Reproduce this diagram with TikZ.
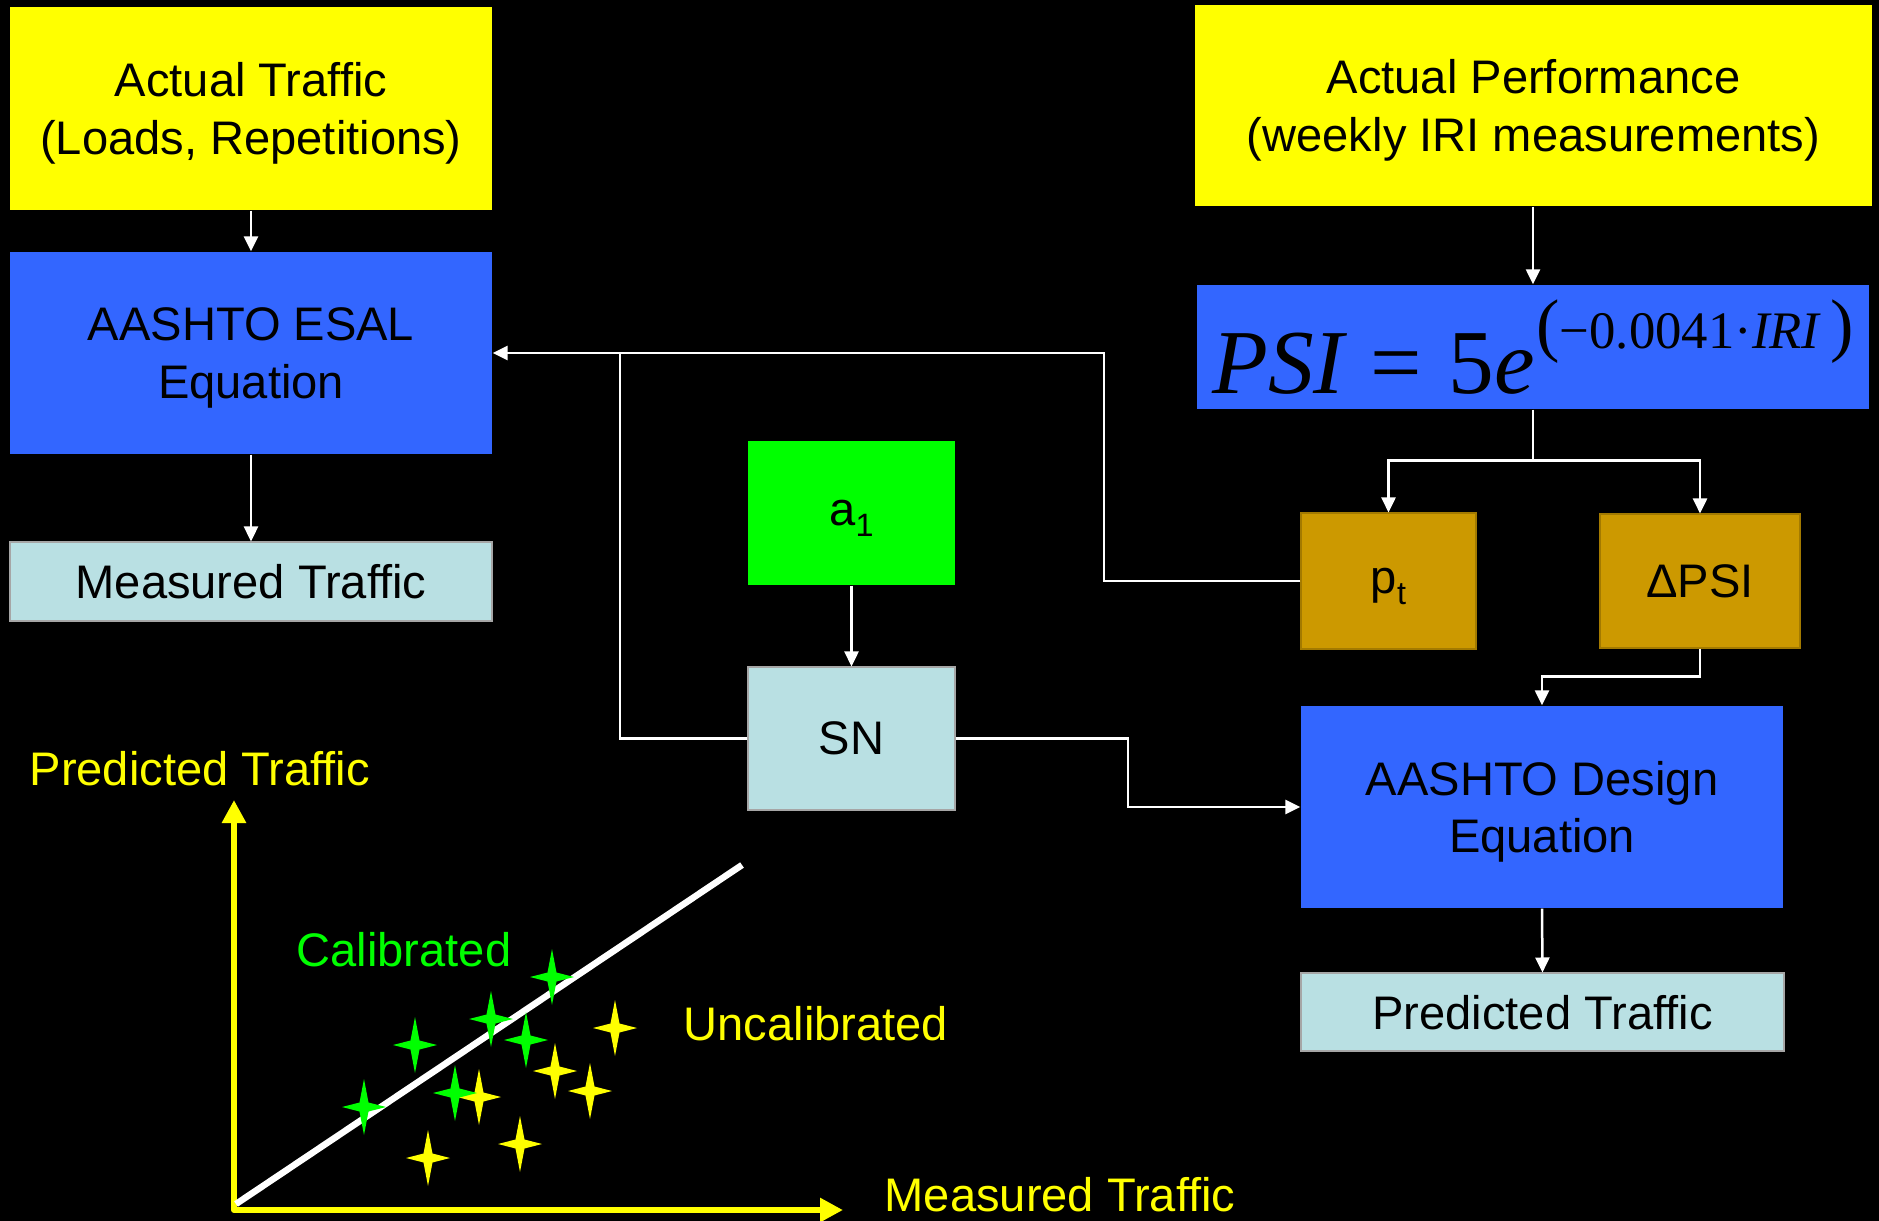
\documentclass[tikz,border=0pt]{standalone}
\usepackage{fontspec}
\setmainfont{Liberation Sans}
\newfontfamily\timesfont{Liberation Serif}
\usetikzlibrary{arrows.meta, positioning, calc}
\definecolor{boxyellow}{RGB}{255, 255, 0}
\definecolor{boxblue}{RGB}{51, 102, 255}
\definecolor{boxcyan}{RGB}{185, 224, 227}
\definecolor{boxgreen}{RGB}{0, 255, 0}
\definecolor{boxgold}{RGB}{204, 153, 0}
\newcommand{\lowsub}[1]{\raisebox{-0.22em}{\fontsize{9.2}{9.2}\selectfont #1}}
\tikzset{
  blk/.style      = {rectangle, inner sep=0pt, align=center, text=black, text depth=0pt, font=\fontsize{13.4}{16.4}\selectfont},
  inbox/.style    = {blk, fill=boxyellow},
  eqbox/.style    = {blk, fill=boxblue},
  databox/.style  = {blk, fill=boxcyan, draw=gray!70, line width=0.3pt},
  coefbox/.style  = {blk, fill=boxgreen},
  termbox/.style  = {blk, fill=boxgold, draw=boxgold!80!black, line width=0.3pt},
  flow/.style     = {-{Triangle[width=0.14cm, length=0.15cm]}, white, line width=0.025cm},
  wire/.style     = {white, line width=0.025cm},
  axisline/.style = {{Triangle[width=0.23cm, length=0.23cm]}-{Triangle[width=0.23cm, length=0.23cm]}, boxyellow, line width=0.06cm, line join=round},
  fitline/.style  = {white, line width=0.065cm},
  plotlab/.style  = {anchor=west, inner sep=0pt, font=\fontsize{13.4}{16.4}\selectfont},
}

\begin{document}
\begin{tikzpicture}[>=Stealth]

% background
\fill[black] (0,0) rectangle (18.79,-12.21);
\useasboundingbox (0,0) rectangle (18.79,-12.21);

% ===================== left column =====================
\node[inbox, minimum width=4.82cm, minimum height=2.03cm] (traffic) at (2.51,-1.085) {Actual Traffic\\(Loads, Repetitions)};
\node[eqbox, minimum width=4.82cm, minimum height=2.02cm] (esal) at (2.51,-3.53) {AASHTO ESAL\\Equation};
\node[databox, minimum width=4.82cm, minimum height=0.79cm] (measured) at (2.51,-5.815) {Measured Traffic};

\draw[flow] (traffic.south) -- (esal.north);
\draw[flow] (esal.south) -- (measured.north);

% ===================== middle column =====================
\node[coefbox, minimum width=2.07cm, minimum height=1.44cm] (aone) at (8.515,-5.13) {a\lowsub{1}};
\node[databox, minimum width=2.07cm, minimum height=1.43cm] (sn) at (8.515,-7.385) {SN};

\draw[flow] (aone.south) -- (sn.north);

% ===================== right column =====================
\node[inbox, minimum width=6.77cm, minimum height=2.01cm] (perf) at (15.335,-1.055) {Actual Performance\\(weekly IRI measurements)};
\node[eqbox, minimum width=6.72cm, minimum height=1.24cm] (psi) at (15.33,-3.47)
  {{\timesfont\fontsize{26}{26}\selectfont\itshape PSI\upshape\hspace{0.04em} = \hspace{0.04em}5\itshape e}\hspace{0.03em}\raisebox{0.45cm}{\timesfont\fontsize{15}{15}\selectfont{\fontsize{20}{20}\selectfont(}−0.0041·\textit{IRI}\,{\fontsize{20}{20}\selectfont)}}};
\node[termbox, minimum width=1.75cm, minimum height=1.36cm] (pt) at (13.885,-5.81) {p\lowsub{t}};
\node[termbox, minimum width=2.0cm, minimum height=1.34cm] (dpsi) at (17.0,-5.81) {ΔPSI};
\node[eqbox, minimum width=4.82cm, minimum height=2.02cm] (design) at (15.42,-8.07) {AASHTO Design\\Equation};
\node[databox, minimum width=4.83cm, minimum height=0.78cm] (predicted) at (15.425,-10.12) {Predicted Traffic};

\draw[flow] (perf.south -| psi.south) -- (psi.north);

% split below the PSI equation
\coordinate (split) at ($(psi.south)+(0,-0.51)$);
\draw[wire] (psi.south) -- (split);
\draw[flow] (split) -| (pt.north);
\draw[flow] (split) -| (dpsi.north);

\coordinate (dpsibend) at ($(dpsi.south)+(0,-0.28)$);
\draw[flow] (dpsi.south) -- (dpsibend) -| (design.north);
\draw[flow] (design.south) -- (predicted.north);

% feedback into the ESAL equation
\coordinate (ptrise) at (11.04,-5.81);
\draw[flow] (pt.west) -- (ptrise) |- (esal.east);
\coordinate (snrise) at (6.20,-3.53);
\draw[wire] (sn.west) -| (snrise);

% SN into the design equation
\coordinate (sndrop) at (11.28,-7.385);
\draw[flow] (sn.east) -- (sndrop) |- (design.west);

% ===================== calibration plot =====================
\coordinate (origin) at (2.34,-12.10);
\coordinate (ytip) at (2.34,-8.00);
\coordinate (xtip) at (8.43,-12.10);
\coordinate (fitA) at (2.36,-12.04);
\coordinate (fitB) at (7.42,-8.65);

\draw[axisline] (ytip) -- (origin) -- (xtip);
\draw[fitline] (fitA) -- (fitB);

\node[plotlab, text=boxyellow] (ylab) at (0.29,-7.69) {Predicted Traffic};
\node[plotlab, text=boxyellow] (xlab) at (8.84,-11.95) {Measured Traffic};
\node[plotlab, text=boxgreen] (callab) at (2.96,-9.50) {Calibrated};
\node[plotlab, text=boxyellow] (uncallab) at (6.83,-10.24) {Uncalibrated};

% sparkles
\foreach \sx/\sy/\sc in {6.15/-10.28/boxyellow, 5.55/-10.71/boxyellow, 5.90/-10.91/boxyellow,
                         4.79/-10.97/boxyellow, 5.20/-11.44/boxyellow, 4.28/-11.58/boxyellow,
                         5.52/-9.77/boxgreen, 4.91/-10.19/boxgreen, 4.15/-10.45/boxgreen,
                         5.26/-10.40/boxgreen, 3.64/-11.07/boxgreen, 4.55/-10.93/boxgreen}{
  \fill[\sc, shift={(\sx,\sy)}] (0,0.28) -- (0.045,0.045) -- (0.22,0) -- (0.045,-0.045)
        -- (0,-0.28) -- (-0.045,-0.045) -- (-0.22,0) -- (-0.045,0.045) -- cycle;
}

\end{tikzpicture}
\end{document}
